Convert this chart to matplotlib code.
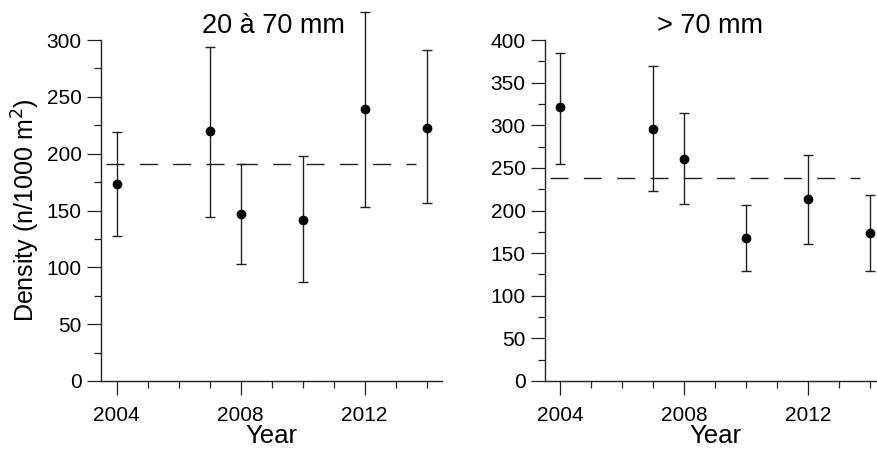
import matplotlib.pyplot as plt
from matplotlib.ticker import MultipleLocator, FixedLocator

plt.rcParams['font.family'] = ['Liberation Sans', 'DejaVu Sans']

years = [2004, 2007, 2008, 2010, 2012, 2014]

# 20 a 70 mm
small_mean = [173, 220, 147, 142, 239, 223]
small_low = [128, 144, 103, 87, 153, 157]
small_high = [219, 294, 191, 198, 325, 291]
small_avg = 190.6

# > 70 mm
large_mean = [321, 296, 260, 168, 213, 174]
large_low = [255, 223, 208, 129, 161, 129]
large_high = [385, 370, 314, 207, 265, 218]
large_avg = 238.5

fig = plt.figure(figsize=(8.77, 4.5), dpi=100)
ax1 = fig.add_axes([101 / 877, 69 / 450, 341 / 877, 341 / 450])
ax2 = fig.add_axes([545 / 877, 69 / 450, 341 / 877, 341 / 450])

col = '#222222'

def panel(ax, mean, low, high, avg, ymax, title, tx):
    err = [[m - l for m, l in zip(mean, low)], [h - m for m, h in zip(mean, high)]]
    ax.hlines(avg, 2003.65, 2013.65, colors=col, linewidth=1.0,
              linestyles=(0, (13, 11)))
    eb = ax.errorbar(years, mean, yerr=err, fmt='o', color='black', ms=6,
                     ecolor=col, elinewidth=1.0, capsize=3.5, capthick=1.0)
    for art in eb.lines[1] + eb.lines[2]:
        art.set_clip_on(False)
    eb.lines[0].set_clip_on(False)
    ax.set_xlim(2003.5, 2014.5)
    ax.set_ylim(0, ymax)
    for s in ['top', 'right']:
        ax.spines[s].set_visible(False)
    for s in ['left', 'bottom']:
        ax.spines[s].set_linewidth(1.0)
        ax.spines[s].set_color(col)
    ax.xaxis.set_major_locator(FixedLocator([2004, 2008, 2012]))
    ax.xaxis.set_minor_locator(MultipleLocator(1))
    ax.yaxis.set_major_locator(MultipleLocator(50))
    ax.yaxis.set_minor_locator(MultipleLocator(25))
    ax.tick_params(which='major', length=10, width=0.9, color=col,
                   labelsize=15, direction='out')
    ax.tick_params(which='minor', length=5, width=0.9, color=col, direction='out')
    ax.tick_params(axis='x', which='major', pad=8)
    ax.tick_params(axis='y', which='major', pad=4)
    ax.set_xlabel('Year', fontsize=18.5, labelpad=-1)
    ax.set_title(title, fontsize=19.5, pad=5, x=tx)

panel(ax1, small_mean, small_low, small_high, small_avg, 300, '20 à 70 mm', 0.505)
panel(ax2, large_mean, large_low, large_high, large_avg, 400, '> 70 mm', 0.485)
ax1.set_ylabel('Density (n/1000 m$^2$)', fontsize=18, labelpad=3)

fig.savefig('out.png', dpi=100)
